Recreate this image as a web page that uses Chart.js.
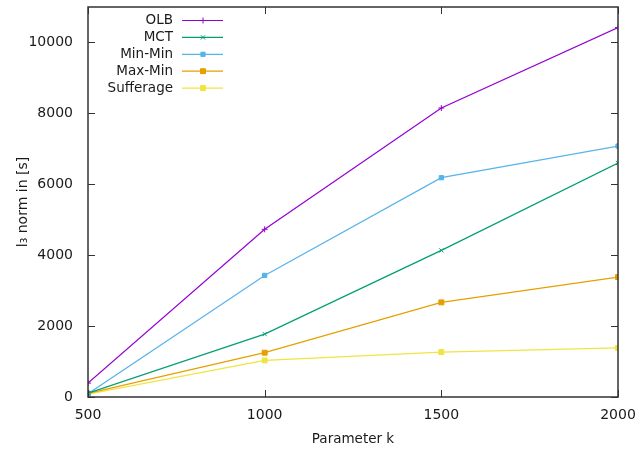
<!DOCTYPE html>
<html>
<head>
<meta charset="utf-8">
<script src="https://cdn.jsdelivr.net/npm/chart.js@4/dist/chart.umd.min.js"></script>
<style>
  html, body { margin: 0; padding: 0; background: #fff; }
  #wrap { width: 638px; height: 450px; }
</style>
</head>
<body>
<div id="wrap"><canvas id="chart" width="638" height="450"></canvas></div>
<script>
const kValues = [500, 1000, 1500, 2000];
const olb = [392, 4730, 8150, 10420];
const mct = [110, 1775, 4135, 6600];
const minMin = [90, 3430, 6186, 7078];
const maxMin = [100, 1250, 2669, 3382];
const sufferage = [80, 1032, 1267, 1385];
const xTicks = [500, 1000, 1500, 2000];
const yTicks = [0, 2000, 4000, 6000, 8000, 10000];

const font = "DejaVu Sans";
const frameColor = "#333333";
const textColor = "#1a1a1a";

const series = [
  { label: "OLB", data: olb, color: "#9400d3", style: "cross", radius: 3 },
  { label: "MCT", data: mct, color: "#009e73", style: "crossRot", radius: 3 },
  { label: "Min-Min", data: minMin, color: "#56b4e9", style: "rect", radius: 3 },
  { label: "Max-Min", data: maxMin, color: "#e69f00", style: "rect", radius: 3.5 },
  { label: "Sufferage", data: sufferage, color: "#f0e442", style: "rect", radius: 3.5 },
];

// gnuplot-like frame with inward ticks, plus the key in the top-left corner
const framePlugin = {
  id: "frame",
  afterDatasetsDraw(chart) {
    const { ctx, chartArea: a, scales } = chart;
    ctx.save();
    ctx.strokeStyle = frameColor;
    ctx.lineWidth = 1.5;
    ctx.strokeRect(a.left, a.top, a.right - a.left, a.bottom - a.top);
    ctx.lineWidth = 1;
    ctx.beginPath();
    yTicks.forEach((v) => {
      const y = Math.round(scales.y.getPixelForValue(v)) + 0.5;
      ctx.moveTo(a.left, y); ctx.lineTo(a.left + 7, y);
      ctx.moveTo(a.right, y); ctx.lineTo(a.right - 7, y);
    });
    xTicks.forEach((v) => {
      const x = Math.round(scales.x.getPixelForValue(v)) + 0.5;
      ctx.moveTo(x, a.bottom); ctx.lineTo(x, a.bottom - 7);
      ctx.moveTo(x, a.top); ctx.lineTo(x, a.top + 7);
    });
    ctx.stroke();

    // key
    ctx.font = `13.5px "${font}"`;
    ctx.textAlign = "right";
    ctx.textBaseline = "middle";
    chart.data.datasets.forEach((ds, i) => {
      const y = 20.5 + i * 16.9;
      ctx.fillStyle = textColor;
      ctx.fillText(ds.label, 173, y);
      ctx.strokeStyle = ds.borderColor;
      ctx.fillStyle = ds.borderColor;
      ctx.lineWidth = 1.2;
      ctx.beginPath();
      ctx.moveTo(182, y); ctx.lineTo(223, y);
      ctx.stroke();
      ctx.lineWidth = 1;
      Chart.helpers.drawPoint(ctx, {
        pointStyle: ds.pointStyle, radius: ds.pointRadius, borderWidth: 1, rotation: 0,
      }, 203, y);
    });
    ctx.restore();
  },
};

new Chart(document.getElementById("chart"), {
  type: "line",
  data: {
    datasets: series.map((s) => ({
      label: s.label,
      data: s.data.map((v, i) => ({ x: kValues[i], y: v })),
      borderColor: s.color,
      backgroundColor: s.color,
      borderWidth: 1.2,
      pointStyle: s.style,
      pointRadius: s.radius,
      pointBorderWidth: 1,
      tension: 0,
      fill: false,
    })),
  },
  options: {
    responsive: false,
    animation: false,
    layout: { padding: 0 },
    plugins: { legend: { display: false }, tooltip: { enabled: false } },
    scales: {
      x: {
        type: "linear",
        min: 500,
        max: 2000,
        grid: { display: false },
        border: { display: false },
        afterBuildTicks: (scale) => { scale.ticks = xTicks.map((value) => ({ value })); },
        afterFit: (scale) => {
          scale.height = 53;
          scale.paddingLeft = 0;
          scale.paddingRight = 20;
        },
        ticks: {
          color: textColor, padding: 2, font: { family: font, size: 14 }, maxRotation: 0,
          callback: (v) => String(v),
        },
        title: {
          display: true,
          text: "Parameter k",
          color: textColor,
          font: { family: font, size: 13.5 },
          padding: { top: 0, bottom: 2 },
        },
      },
      y: {
        min: 0,
        max: 11000,
        grid: { display: false },
        border: { display: false },
        afterBuildTicks: (scale) => { scale.ticks = yTicks.map((value) => ({ value })); },
        afterFit: (scale) => {
          scale.width = 88;
          scale.paddingTop = 7;
          scale.paddingBottom = 0;
        },
        ticks: {
          color: textColor, padding: 7, font: { family: font, size: 14 },
          callback: (v) => String(v),
        },
        title: {
          display: true,
          text: "l\u2083 norm in [s]",
          color: textColor,
          font: { family: font, size: 14 },
          padding: { top: 15, bottom: 0 },
        },
      },
    },
  },
  plugins: [framePlugin],
});
</script>
</body>
</html>
